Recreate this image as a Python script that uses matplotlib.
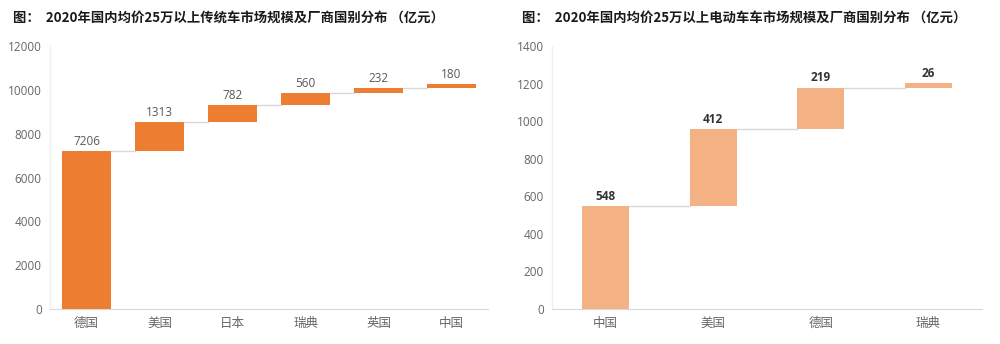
import matplotlib
matplotlib.use("Agg")
import matplotlib.pyplot as plt
import numpy as np

plt.rcParams['font.family'] = ['Noto Sans CJK SC', 'DejaVu Sans']

# Left chart data
left_title = "图：  2020年国内均价25万以上传统车市场规模及厂商国别分布 （亿元）"
left_categories = ["德国", "美国", "日本", "瑞典", "英国", "中国"]
left_values = [7206, 1313, 782, 560, 232, 180]
left_ticks = [0, 2000, 4000, 6000, 8000, 10000, 12000]

# Right chart data
right_title = "图：  2020年国内均价25万以上电动车车市场规模及厂商国别分布 （亿元）"
right_categories = ["中国", "美国", "德国", "瑞典"]
right_values = [548, 412, 219, 26]
right_ticks = [0, 200, 400, 600, 800, 1000, 1200, 1400]

fig = plt.figure(figsize=(10, 3.44), dpi=100)
fig.patch.set_facecolor('white')

def waterfall(ax, cats, vals, ticks, color, width, label_color, label_weight):
    vals = np.array(vals)
    bottoms = np.concatenate([[0], np.cumsum(vals)[:-1]])
    x = np.arange(len(cats))
    ax.bar(x, vals, bottom=bottoms, width=width, color=color, zorder=3)
    tops = bottoms + vals
    for i in range(len(cats) - 1):
        ax.plot([x[i] + width / 2, x[i + 1] - width / 2], [tops[i], tops[i]],
                color='#d9d9d9', lw=1, zorder=2)
    span = ticks[-1] - ticks[0]
    for xi, t, v in zip(x, tops, vals):
        ax.text(xi, t + span * 0.012, str(v), ha='center', va='bottom',
                fontsize=8.5, color=label_color, fontweight=label_weight,
                family=['Open Sans', 'DejaVu Sans'])
    ax.set_xticks(x)
    ax.set_xticklabels(cats, fontsize=9, color='#666666')
    ax.set_yticks(ticks)
    ax.set_yticklabels([str(t) for t in ticks], fontsize=8.5, color='#666666',
                       family=['Open Sans', 'DejaVu Sans'])
    ax.set_ylim(ticks[0], ticks[-1])
    ax.set_xlim(-0.5, len(cats) - 0.5)
    ax.tick_params(length=0, pad=6)
    for s in ['top', 'right']:
        ax.spines[s].set_visible(False)
    ax.spines['left'].set_color('#f0f0f0')
    ax.spines['bottom'].set_color('#d9d9d9')
    ax.spines['left'].set_linewidth(1)

axL = fig.add_axes([0.05, 0.102, 0.438, 0.764])
waterfall(axL, left_categories, left_values, left_ticks, '#ED7D31', 0.66, '#595959', 'normal')

axR = fig.add_axes([0.552, 0.102, 0.430, 0.764])
waterfall(axR, right_categories, right_values, right_ticks, '#F4B183', 0.44, '#333333', 'bold')

fig.text(0.013, 0.95, left_title, fontsize=9.6, fontweight='bold', color='#1a1a1a',
         ha='left', va='center')
fig.text(0.522, 0.95, right_title, fontsize=9.6, fontweight='bold', color='#1a1a1a',
         ha='left', va='center')

fig.savefig("out.png", dpi=100, facecolor='white')
